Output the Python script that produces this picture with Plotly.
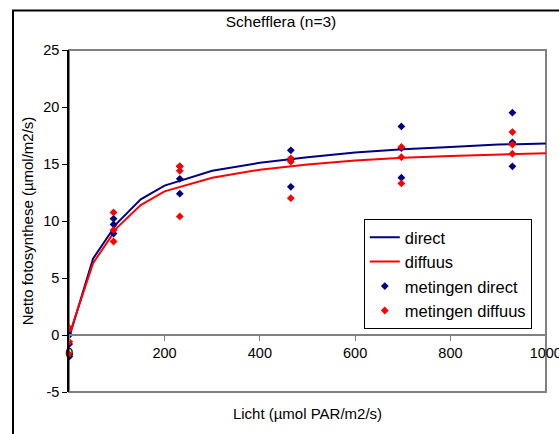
import plotly.graph_objects as go

# curve (model) values
curve_x = [0, 50, 100, 150, 200, 300, 400, 500, 600, 700, 800, 900, 1000]
direct_curve = [-0.2, 6.7, 9.8, 11.9, 13.1, 14.4, 15.1, 15.6, 16.0, 16.3, 16.5, 16.7, 16.8]
diffuus_curve = [0.0, 6.3, 9.4, 11.4, 12.6, 13.8, 14.5, 14.95, 15.3, 15.55, 15.7, 15.85, 15.95]

# measurements
meas_x = [0, 0, 0, 93, 93, 93, 232, 232, 232, 465, 465, 465, 697, 697, 697, 930, 930, 930]
meas_direct = [0.0, -0.8, -1.9, 10.2, 9.7, 8.9, 14.8, 13.7, 12.4,
               16.2, 15.4, 13.0, 18.3, 16.4, 13.8, 19.5, 16.9, 14.8]
meas_diffuus = [0.6, -0.6, -1.7, 10.75, 9.2, 8.2, 14.8, 14.4, 10.4,
                15.5, 15.2, 12.0, 16.5, 15.6, 13.3, 17.8, 16.7, 15.9]

x_ticks = [0, 200, 400, 600, 800, 1000]
x_tick_text = ["0", "200", "400", "600", "800", "1000"]
y_ticks = [-5, 0, 5, 10, 15, 20, 25]
y_tick_text = ["-5", "0", "5", "10", "15", "20", "25"]

NAVY = "#000080"
RED = "#FF0000"
FONT = "Liberation Sans, Arial, sans-serif"

fig = go.Figure()
fig.add_trace(go.Scatter(x=curve_x, y=direct_curve, mode="lines", name="direct",
                         line=dict(color=NAVY, width=2)))
fig.add_trace(go.Scatter(x=curve_x, y=diffuus_curve, mode="lines", name="diffuus",
                         line=dict(color=RED, width=2)))
fig.add_trace(go.Scatter(x=meas_x, y=meas_direct, mode="markers", name="metingen direct",
                         marker=dict(symbol="diamond", size=6, color=NAVY)))
fig.add_trace(go.Scatter(x=meas_x, y=meas_diffuus, mode="markers", name="metingen diffuus",
                         marker=dict(symbol="diamond", size=6, color=RED)))

fig.update_layout(
    width=559, height=434,
    margin=dict(l=69, r=13, t=50, b=42, autoexpand=False),
    paper_bgcolor="white", plot_bgcolor="white",
    font=dict(family=FONT, color="black", size=14),
    title=dict(text="Schefflera (n=3)", x=281 / 559, xref="container", xanchor="center",
               y=1 - 22 / 434, yref="container", yanchor="middle",
               font=dict(size=15.5, family=FONT)),
    xaxis=dict(range=[-0.5, 1000.5], tickvals=x_ticks, ticktext=x_tick_text,
               showgrid=False, zeroline=False, automargin=False,
               showline=True, linecolor="#808080", linewidth=2,
               ticks="outside", ticklen=5, tickcolor="#808080", tickwidth=1,
               anchor="free", position=1 / 6, ticklabeloverflow="allow",
               tickfont=dict(size=14.5),
               title=dict(text="Licht (µmol PAR/m2/s)", standoff=47, font=dict(size=15))),
    yaxis=dict(range=[-5, 25], tickvals=y_ticks, ticktext=y_tick_text,
               showgrid=False, zeroline=False, automargin=False,
               showline=True, linecolor="black", linewidth=1.5,
               ticks="outside", ticklen=5, tickcolor="black", tickwidth=1,
               tickfont=dict(size=14.5),
               title=dict(text="Netto fotosynthese (µmol/m2/s)", standoff=6, font=dict(size=15))),
    legend=dict(x=0.618, y=0.506, xanchor="left", yanchor="top",
                bgcolor="white", bordercolor="black", borderwidth=1,
                font=dict(size=16.5, family=FONT), tracegroupgap=0),
    showlegend=True,
    shapes=[
        dict(type="rect", xref="paper", yref="paper", x0=0, y0=0, x1=1, y1=1,
             line=dict(color="#808080", width=2), fillcolor="rgba(0,0,0,0)", layer="below"),
        dict(type="rect", xref="paper", yref="paper",
             x0=(13 - 69) / 477, y0=-0.2, x1=1.1, y1=1 + (50 - 10.5) / 342,
             line=dict(color="black", width=2), fillcolor="rgba(0,0,0,0)", layer="below"),
    ],
)

fig.write_html("out.html")
